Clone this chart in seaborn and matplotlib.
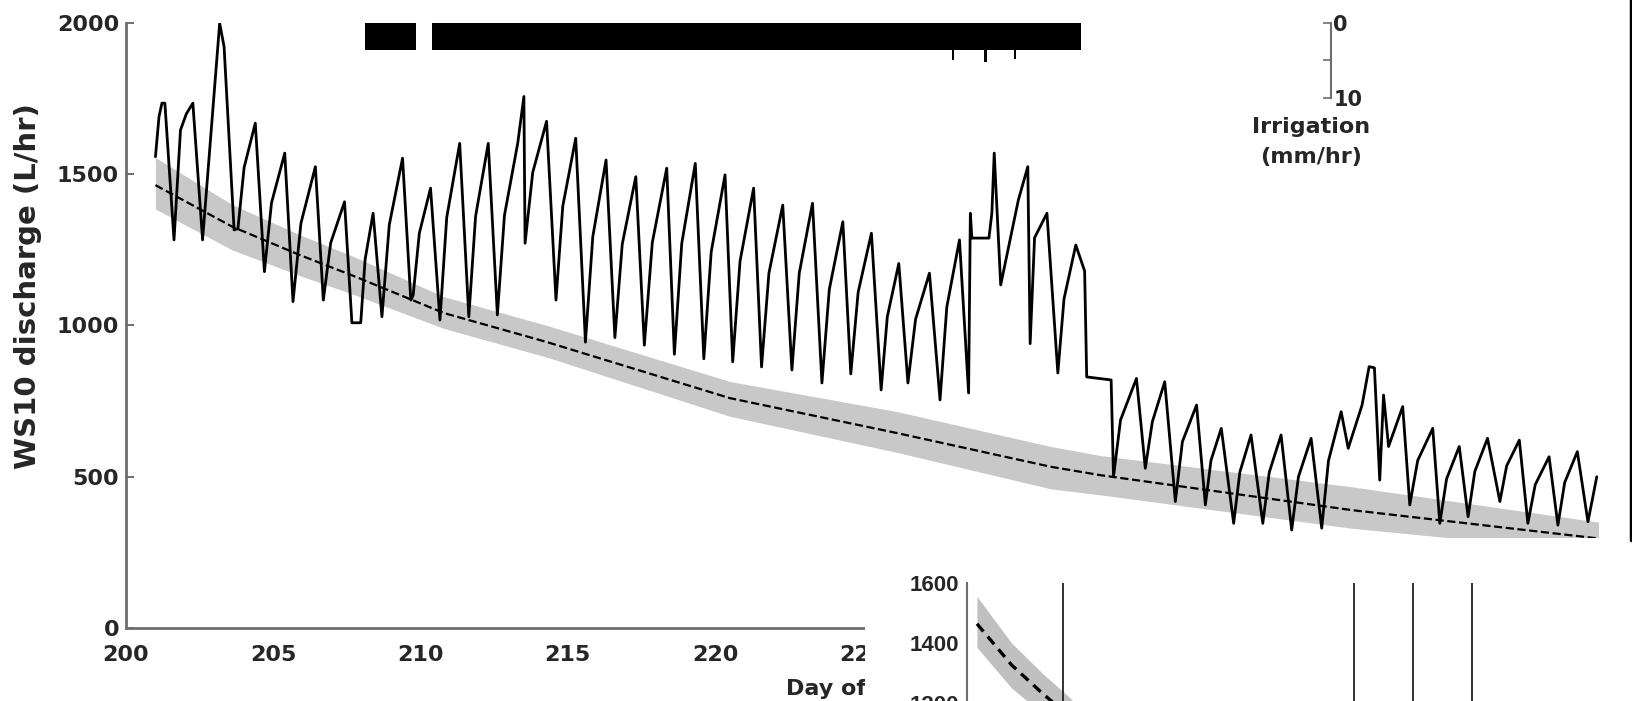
import numpy as np
import matplotlib
matplotlib.use("Agg")
import matplotlib.pyplot as plt
from matplotlib.patches import Rectangle
from matplotlib.lines import Line2D
import seaborn as sns

# discharge trace (day, L/hr)
flow_day = [201.00, 201.12, 201.22, 201.32, 201.63, 201.85, 202.05, 202.27, 202.60,
            203.18, 203.33, 203.67, 203.80, 204.01, 204.39, 204.70, 204.94, 205.39,
            205.67, 205.94, 206.43, 206.70, 206.95, 207.42, 207.67, 207.97, 208.12,
            208.39, 208.69, 208.94, 209.39, 209.67, 209.75, 209.96, 210.34, 210.66,
            210.89, 211.33, 211.64, 211.87, 212.30, 212.61, 212.85, 213.30, 213.51,
            213.55, 213.81, 214.28, 214.60, 214.83, 215.27, 215.60, 215.85, 216.30,
            216.60, 216.85, 217.31, 217.60, 217.87, 218.36, 218.62, 218.87, 219.33,
            219.62, 219.87, 220.34, 220.60, 220.85, 221.31, 221.58, 221.83, 222.30,
            222.61, 222.86, 223.31, 223.63, 223.88, 224.34, 224.61, 224.86, 225.31,
            225.64, 225.85, 226.24, 226.55, 226.81, 227.28, 227.64, 227.87, 228.30,
            228.61, 228.67, 228.72, 229.30, 229.40, 229.48, 229.70, 230.30, 230.62,
            230.70, 230.85, 231.27, 231.64, 231.85, 232.25, 232.55, 232.62, 233.45,
            233.53, 233.77, 234.31, 234.61, 234.85, 235.27, 235.63, 235.87, 236.35,
            236.65, 236.84, 237.19, 237.61, 237.82, 238.20, 238.60, 238.82, 239.22,
            239.58, 239.81, 240.24, 240.60, 240.83, 241.26, 241.50, 241.97, 242.21,
            242.39, 242.57, 242.70, 242.87, 243.35, 243.59, 243.86, 244.37, 244.61,
            244.84, 245.27, 245.57, 245.80, 246.23, 246.65, 246.88, 247.31, 247.60,
            247.85, 248.32, 248.62, 248.85, 249.28, 249.64, 249.94]
flow_q = [1558, 1690, 1735, 1735, 1283, 1646, 1700, 1735, 1283,
          1999, 1922, 1316, 1320, 1522, 1669, 1178, 1405, 1570,
          1079, 1338, 1525, 1084, 1273, 1409, 1009, 1009, 1219,
          1371, 1029, 1333, 1553, 1084, 1100, 1305, 1454, 1018,
          1357, 1602, 1029, 1361, 1602, 1035, 1364, 1602, 1757,
          1272, 1506, 1675, 1084, 1394, 1619, 945, 1294, 1547,
          960, 1269, 1492, 935, 1274, 1520, 905, 1271, 1536,
          890, 1243, 1498, 880, 1213, 1454, 863, 1173, 1398,
          853, 1173, 1404, 810, 1119, 1343, 840, 1110, 1305,
          787, 1029, 1205, 810, 1021, 1173, 754, 1061, 1283,
          777, 1371, 1289, 1289, 1371, 1570, 1134, 1415, 1525,
          940, 1290, 1371, 843, 1088, 1266, 1180, 830, 820,
          500, 688, 825, 528, 682, 814, 418, 616, 737,
          407, 554, 660, 346, 515, 638, 346, 515, 638,
          324, 500, 627, 330, 553, 715, 594, 737, 864,
          860, 489, 770, 600, 732, 407, 554, 660, 346,
          493, 600, 368, 518, 627, 418, 536, 621, 346,
          474, 566, 340, 481, 583, 351, 500]

# baseflow recession (dashed) and its uncertainty band
rec_day = [201.0, 203.6, 205.9, 207.8, 210.8, 214.3, 220.5, 226.2, 231.4, 233.1, 241.6, 250.0]
rec_q = [1464, 1327, 1233, 1161, 1041, 945, 760, 644, 533, 505, 390, 296]
band_lo = [1385, 1250, 1165, 1100, 990, 895, 700, 580, 460, 440, 330, 250]
band_hi = [1555, 1400, 1300, 1225, 1095, 1000, 815, 715, 600, 570, 467, 350]

# irrigation (mm/hr), hanging from the top of the panel
irr_start = [208.12, 210.39, 228.05, 229.15, 230.15]
irr_dur = [1.71, 22.04, 0.08, 0.08, 0.08]
irr_rate = [3.6, 3.6, 5.0, 5.2, 4.8]

# event markers in the inset
inset_event_days = [207.5, 229.35, 233.8, 238.2]

main_font = "DejaVu Sans"
inset_font = "Liberation Sans"

sns.set_theme(style="white")
plt.rcParams["font.family"] = [main_font]
plt.rcParams["font.weight"] = "bold"

fig = plt.figure(figsize=(16.33, 7.01), dpi=100)
fig.patch.set_facecolor("white")

ax = fig.add_axes([0.07716, 0.10414, 0.91978, 0.86305])
ax.fill_between(rec_day, band_lo, band_hi, color="#c8c8c8", lw=0, zorder=1)
sns.lineplot(x=rec_day, y=rec_q, ax=ax, color="black", lw=1.6, linestyle="--",
             sort=False, estimator=None, zorder=3)
sns.lineplot(x=flow_day, y=flow_q, ax=ax, color="black", lw=2.0,
             sort=False, estimator=None, zorder=2)

ax.set_xlim(200, 251)
ax.set_ylim(0, 2000)
ax.set_xticks(np.arange(200, 255, 5))
ax.set_yticks([0, 500, 1000, 1500, 2000])
for s in ["top", "right"]:
    ax.spines[s].set_visible(False)
for s in ["left", "bottom"]:
    ax.spines[s].set_color("#6e6e6e")
    ax.spines[s].set_linewidth(2)
ax.tick_params(direction="in", length=6, width=1.2, color="#555555", labelsize=16)
ax.tick_params(axis="x", pad=12)
ax.tick_params(axis="y", pad=5)
for lab in ax.get_xticklabels() + ax.get_yticklabels():
    lab.set_fontweight("bold")
ax.set_ylabel("WS10 discharge (L/hr)", fontsize=21, fontweight="bold")
ax.yaxis.set_label_coords(-0.056, 0.565)
ax.set_xlabel("Day of year", fontsize=16, fontweight="bold")
ax.xaxis.set_label_coords(0.4394, -0.085)
ax.xaxis.label.set_ha("left")

# irrigation on an inverted twin axis
ax2 = ax.twinx()
ax2.bar(irr_start, irr_rate, width=irr_dur, align="edge", color="black", lw=0)
ax2.set_ylim(80.7, 0)
for s in ["top", "left", "bottom"]:
    ax2.spines[s].set_visible(False)
ax2.spines["right"].set_position(("data", 240.9))
ax2.spines["right"].set_bounds(0, 10)
ax2.spines["right"].set_color("#6e6e6e")
ax2.spines["right"].set_linewidth(1.5)
ax2.set_yticks([0, 5, 10])
ax2.set_yticklabels(["0", "", "10"])
ax2.tick_params(axis="y", direction="in", length=6, width=1.2, color="#6e6e6e",
                labelsize=15, pad=2)
for lab in ax2.get_yticklabels():
    lab.set_fontweight("bold")
ax2.text(240.25, 12.6, "Irrigation\n(mm/hr)", ha="center", va="top",
         fontsize=16, fontweight="bold", linespacing=1.6)

# white box hiding the lower right corner, then the inset on top of it
fig.add_artist(Rectangle((865 / 1633, 0), 1 - 865 / 1633, 163 / 701,
                         transform=fig.transFigure, facecolor="white",
                         edgecolor="none", zorder=5))
fig.add_artist(Line2D([1631 / 1633, 1631 / 1633], [1 - 540 / 701, 1],
                      transform=fig.transFigure, color="black", lw=2.5, zorder=6))

axi = fig.add_axes([0.59216, -0.25963, 0.4052, 0.42796])
axi.set_zorder(7)
axi.fill_between(rec_day, band_lo, band_hi, color="#c0c0c0", lw=0)
sns.lineplot(x=rec_day, y=rec_q, ax=axi, color="black", lw=2.4, linestyle=(0, (3, 2)),
             sort=False, estimator=None)
for d in inset_event_days:
    axi.axvline(d, color="#222222", lw=1.3)
axi.set_xlim(200.25, 250)
axi.set_ylim(600, 1600)
axi.set_yticks([1200, 1400, 1600])
axi.set_xticks([])
for s in ["top", "right", "bottom"]:
    axi.spines[s].set_visible(False)
axi.spines["left"].set_color("#6e6e6e")
axi.spines["left"].set_linewidth(1.5)
axi.tick_params(axis="y", direction="in", length=5, width=1.2, color="#555555",
                labelsize=16, pad=6)
for lab in axi.get_yticklabels():
    lab.set_fontfamily(inset_font)
    lab.set_fontweight("bold")

fig.savefig("out.png", dpi=100, facecolor="white")
